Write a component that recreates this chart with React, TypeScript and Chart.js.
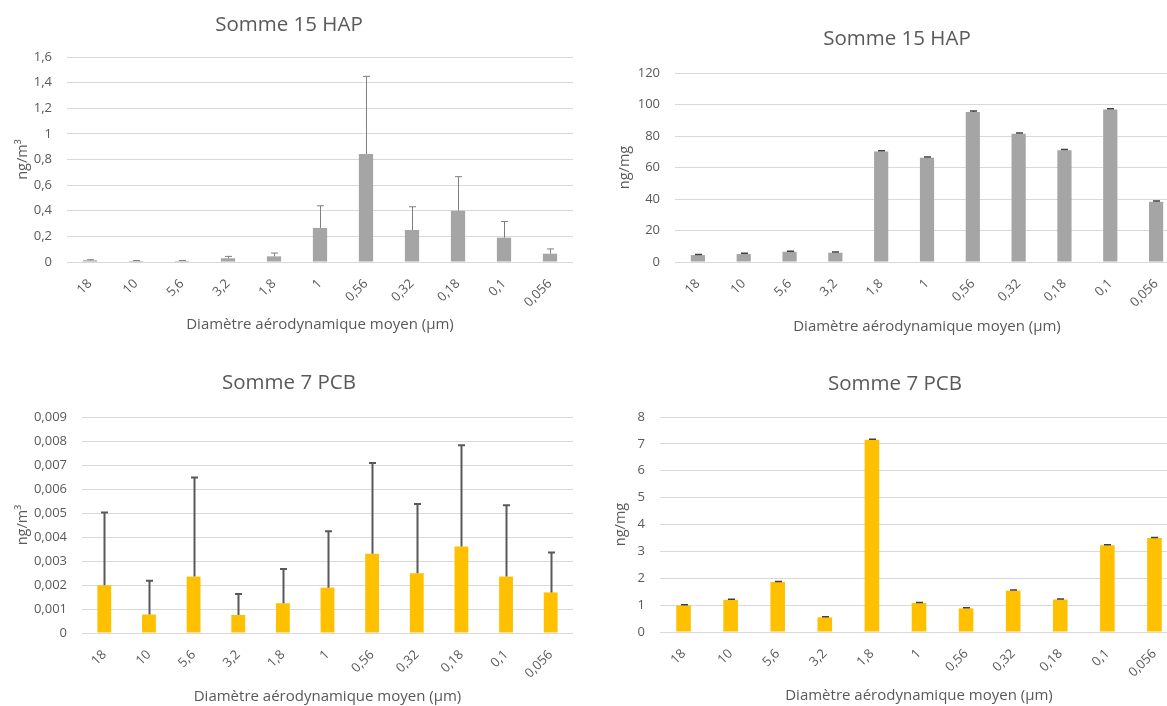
import React, { useEffect, useRef } from 'react';
import { Chart, registerables } from 'chart.js';

Chart.register(...registerables);

// ---------- DATA ----------
const categories = ['18', '10', '5,6', '3,2', '1,8', '1', '0,56', '0,32', '0,18', '0,1', '0,056'];

const hapM3Values = [0.013, 0.008, 0.008, 0.029, 0.044, 0.266, 0.843, 0.25, 0.4, 0.19, 0.065];
const hapM3Errors = [0.005, 0.003, 0.004, 0.015, 0.026, 0.173, 0.606, 0.181, 0.266, 0.126, 0.037];
const hapM3TickLabels = ['0', '0,2', '0,4', '0,6', '0,8', '1', '1,2', '1,4', '1,6'];

const hapMgValues = [4.4, 5.1, 6.5, 5.9, 70.2, 66.2, 95.3, 81.4, 70.9, 96.8, 38.2];
const hapMgErrors = [0.4, 0.4, 0.4, 0.4, 0.5, 0.5, 0.5, 0.5, 0.5, 0.5, 0.5];
const hapMgTickLabels = ['0', '20', '40', '60', '80', '100', '120'];

const pcbM3Values = [0.00199, 0.00077, 0.00235, 0.00075, 0.00124, 0.00189, 0.0033, 0.00249, 0.0036, 0.00235, 0.00169];
const pcbM3Errors = [0.00303, 0.00141, 0.00413, 0.00088, 0.00143, 0.00235, 0.00378, 0.00289, 0.00422, 0.00297, 0.00166];
const pcbM3TickLabels = ['0', '0,001', '0,002', '0,003', '0,004', '0,005', '0,006', '0,007', '0,008', '0,009'];

const pcbMgValues = [0.99, 1.2, 1.86, 0.545, 7.15, 1.08, 0.88, 1.54, 1.21, 3.23, 3.5];
const pcbMgErrors = [0.02, 0.02, 0.02, 0.02, 0.02, 0.02, 0.02, 0.02, 0.02, 0.02, 0.02];
const pcbMgTickLabels = ['0', '1', '2', '3', '4', '5', '6', '7', '8'];

const titleHap = 'Somme 15 HAP';
const titlePcb = 'Somme 7 PCB';
const xTitle = 'Diamètre aérodynamique moyen (µm)';
const yTitleM3 = 'ng/m³';
const yTitleMg = 'ng/mg';

// ---------- STYLE ----------
const TEXT = '#595959';
const GRID = '#D9D9D9';
const GRAY = '#A5A5A5';
const GOLD = '#FFC000';
const FONT = "'Open Sans', 'DejaVu Sans', sans-serif";
const TITLE_SIZE = 20.5;
const TITLE_LH = TITLE_SIZE * 1.2;

Chart.defaults.font.family = FONT;

const errorBarPlugin = {
  id: 'errorBars',
  afterDatasetsDraw(chart: any, _args: any, opts: any) {
    const errs: number[] = opts.errors || [];
    const meta = chart.getDatasetMeta(0);
    const yScale = chart.scales.y;
    const ctx = chart.ctx;
    const vals = chart.data.datasets[0].data as number[];
    ctx.save();
    ctx.strokeStyle = opts.color;
    ctx.lineWidth = opts.width;
    meta.data.forEach((bar: any, i: number) => {
      const v = vals[i];
      const e = errs[i] || 0;
      const x = Math.round(bar.x) + 0.5;
      const y0 = yScale.getPixelForValue(v);
      const y1 = yScale.getPixelForValue(v + e);
      ctx.beginPath();
      ctx.moveTo(x, y0);
      ctx.lineTo(x, y1);
      ctx.moveTo(x - opts.cap, y1);
      ctx.lineTo(x + opts.cap, y1);
      ctx.stroke();
    });
    ctx.restore();
  },
};

type Spec = {
  title: string;
  values: number[];
  errors: number[];
  tickLabels: string[];
  step: number;
  color: string;
  yTitle: string;
  errColor: string;
  errWidth: number;
  left: number;
  top: number;
  width: number;
  height: number;
  padLeft: number;
  padRight: number;
  yAxisWidth: number;
  xAxisHeight: number;
  titleCenter: number; // relative to canvas top
  plotTop: number; // relative to canvas top
  yTitlePad: number;
  xTitlePad: number;
};

function ChartBox({ spec }: { spec: Spec }) {
  const ref = useRef<HTMLCanvasElement>(null);
  useEffect(() => {
    if (!ref.current) return;
    const max = spec.step * (spec.tickLabels.length - 1);
    const titlePadTop = spec.titleCenter - TITLE_LH / 2;
    const titlePadBottom = spec.plotTop - titlePadTop - TITLE_LH;
    const chart = new Chart(ref.current, {
      type: 'bar',
      data: {
        labels: categories,
        datasets: [
          {
            data: spec.values,
            backgroundColor: spec.color,
            borderWidth: 0,
            barPercentage: 0.31,
            categoryPercentage: 1,
          },
        ],
      },
      plugins: [errorBarPlugin],
      options: {
        animation: false,
        responsive: false,
        maintainAspectRatio: false,
        devicePixelRatio: 1,
        layout: { padding: { left: spec.padLeft, right: spec.padRight, top: 0, bottom: 0 } },
        plugins: {
          legend: { display: false },
          tooltip: { enabled: false },
          title: {
            display: true,
            text: spec.title,
            color: TEXT,
            font: { size: TITLE_SIZE, weight: 'normal', lineHeight: 1.2 },
            padding: { top: titlePadTop, bottom: titlePadBottom },
          },
          errorBars: { errors: spec.errors, color: spec.errColor, width: spec.errWidth, cap: 3.5 },
        } as any,
        scales: {
          x: {
            grid: { display: false, drawTicks: false },
            border: { display: false },
            ticks: {
              color: TEXT,
              font: { size: 13 },
              minRotation: 45,
              maxRotation: 45,
              padding: 14,
              autoSkip: false,
            },
            title: {
              display: true,
              text: xTitle,
              color: TEXT,
              font: { size: 15 },
              padding: { top: 0, bottom: spec.xTitlePad },
            },
            afterFit: (s: any) => {
              s.height = spec.xAxisHeight;
            },
          },
          y: {
            min: 0,
            max,
            grid: { color: GRID, drawTicks: false, lineWidth: 1 },
            border: { display: false },
            ticks: {
              stepSize: spec.step,
              color: TEXT,
              font: { size: 13 },
              padding: 15,
              callback: (_v: any, i: number) => spec.tickLabels[i],
            },
            title: {
              display: true,
              text: spec.yTitle,
              color: TEXT,
              font: { size: 14.5 },
              padding: { top: spec.yTitlePad, bottom: 0 },
            },
            afterFit: (s: any) => {
              s.width = spec.yAxisWidth;
            },
          },
        },
      } as any,
    });
    return () => chart.destroy();
  }, [spec]);
  return (
    <canvas
      ref={ref}
      width={spec.width}
      height={spec.height}
      style={{ position: 'absolute', left: spec.left, top: spec.top, width: spec.width, height: spec.height }}
    />
  );
}

const specs: Spec[] = [
  {
    title: titleHap, values: hapM3Values, errors: hapM3Errors, tickLabels: hapM3TickLabels, step: 0.2,
    color: GRAY, yTitle: yTitleM3, errColor: '#7F7F7F', errWidth: 1,
    left: 0, top: 0, width: 578, height: 345, padLeft: 5, padRight: 5, yAxisWidth: 62, xAxisHeight: 83,
    titleCenter: 25, plotTop: 57, yTitlePad: 9, xTitlePad: 11,
  },
  {
    title: titleHap, values: hapMgValues, errors: hapMgErrors, tickLabels: hapMgTickLabels, step: 20,
    color: GRAY, yTitle: yTitleMg, errColor: '#404040', errWidth: 1.5,
    left: 610, top: 0, width: 575, height: 345, padLeft: 5, padRight: 6, yAxisWidth: 60, xAxisHeight: 83,
    titleCenter: 39, plotTop: 73, yTitlePad: 1, xTitlePad: 9,
  },
  {
    title: titlePcb, values: pcbM3Values, errors: pcbM3Errors, tickLabels: pcbM3TickLabels, step: 0.001,
    color: GOLD, yTitle: yTitleM3, errColor: '#595959', errWidth: 2,
    left: 0, top: 345, width: 578, height: 361, padLeft: 5, padRight: 5, yAxisWidth: 77, xAxisHeight: 73,
    titleCenter: 38, plotTop: 72, yTitlePad: 9, xTitlePad: 0,
  },
  {
    title: titlePcb, values: pcbMgValues, errors: pcbMgErrors, tickLabels: pcbMgTickLabels, step: 1,
    color: GOLD, yTitle: yTitleMg, errColor: '#404040', errWidth: 1.5,
    left: 607, top: 345, width: 577, height: 361, padLeft: 5, padRight: 6, yAxisWidth: 48, xAxisHeight: 74,
    titleCenter: 39, plotTop: 72, yTitlePad: 0, xTitlePad: 1,
  },
];

export default function App() {
  return (
    <div
      style={{
        position: 'absolute',
        left: 0,
        top: 0,
        width: 1167,
        height: 706,
        overflow: 'hidden',
        background: '#FFFFFF',
      }}
    >
      {specs.map((s, i) => (
        <ChartBox key={i} spec={s} />
      ))}
    </div>
  );
}
